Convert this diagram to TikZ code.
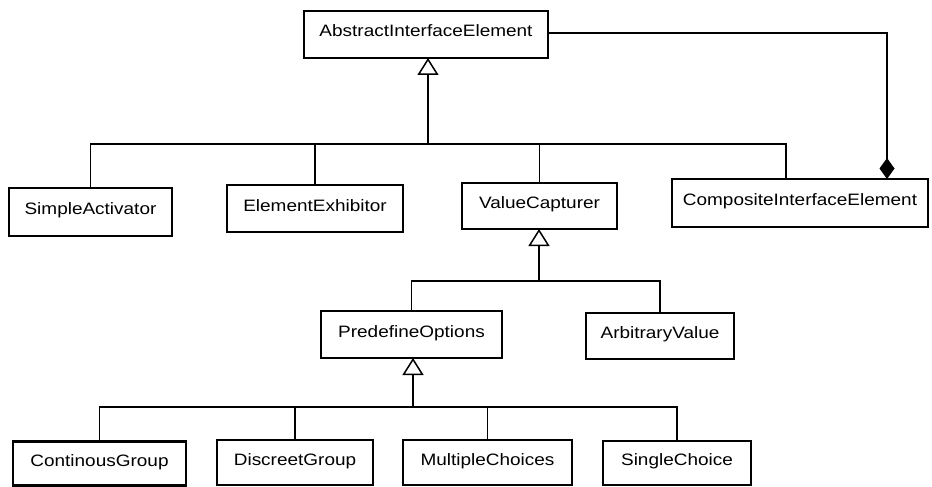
\documentclass[tikz,border=0pt]{standalone}
\usepackage{fontspec}
\setmainfont{Liberation Sans}[FakeStretch=1.15]
\usetikzlibrary{arrows.meta}
\begin{document}
\begin{tikzpicture}[x=1pt,y=-1pt,
  cls/.style={draw, line width=2.6pt, inner sep=0pt, outer sep=0pt,
    text height=12pt, text depth=7pt,
    font=\fontsize{16.5}{19}\selectfont},
  link/.style={line width=1.3pt},
  stem/.style={line width=1.7pt},
  inh/.style={-{Triangle[open, length=17pt, width=21pt, line width=1.5pt]}},
  comp/.style={line width=1.3pt, -{Diamond[length=21pt, width=15pt]}}]
\useasboundingbox (0,0) rectangle (932,487);
\fill[white] (0,0) rectangle (932,487);
% classes
\node[cls, minimum width=244pt, minimum height=47pt] (AIE) at (426,34.5) {AbstractInterfaceElement};
\node[cls, minimum width=163pt, minimum height=48pt] (SA) at (90.5,212) {SimpleActivator};
\node[cls, minimum width=176pt, minimum height=47pt] (EE) at (315,208.5) {ElementExhibitor};
\node[cls, minimum width=155pt, minimum height=46pt] (VC) at (539.5,206) {ValueCapturer};
\node[cls, minimum width=256pt, minimum height=48pt] (CIE) at (800,203) {CompositeInterfaceElement};
\node[cls, minimum width=181pt, minimum height=47pt] (PO) at (411.5,334.5) {PredefineOptions};
\node[cls, minimum width=148pt, minimum height=46pt] (AV) at (660,336) {ArbitraryValue};
\node[cls, minimum width=173pt, minimum height=44pt] (CG) at (99.5,463.5) {ContinousGroup};
\node[cls, minimum width=156pt, minimum height=45pt] (DG) at (295,462.5) {DiscreetGroup};
\node[cls, minimum width=169pt, minimum height=45pt] (MC) at (487.5,462.5) {MultipleChoices};
\node[cls, minimum width=148pt, minimum height=44pt] (SC) at (677,463) {SingleChoice};
% bus junctions
\coordinate (b1) at (428,144);
\coordinate (b2) at (539,281);
\coordinate (b3) at (413,407);
\coordinate (c1) at (786,144);
\coordinate (d1) at (887,33);
% generalisation to AbstractInterfaceElement
\draw[link] (b1) -| (SA.north);
\draw[link] (b1) -| (EE.north);
\draw[link] (b1) -| (VC.north);
\draw[link] (b1) -- (c1) -- (c1 |- CIE.north);
\draw[stem, inh] (b1) -- (b1 |- AIE.south);
% composition
\draw[comp] (AIE.east |- d1) -- (d1) -- (d1 |- CIE.north);
% generalisation to ValueCapturer
\draw[link] (b2) -| (PO.north);
\draw[link] (b2) -| (AV.north);
\draw[link, inh] (b2) -- (b2 |- VC.south);
% generalisation to PredefineOptions
\draw[link] (b3) -| (CG.north);
\draw[link] (b3) -| (DG.north);
\draw[link] (b3) -| (MC.north);
\draw[link] (b3) -| (SC.north);
\draw[stem, inh] (b3) -- (b3 |- PO.south);
\end{tikzpicture}
\end{document}
